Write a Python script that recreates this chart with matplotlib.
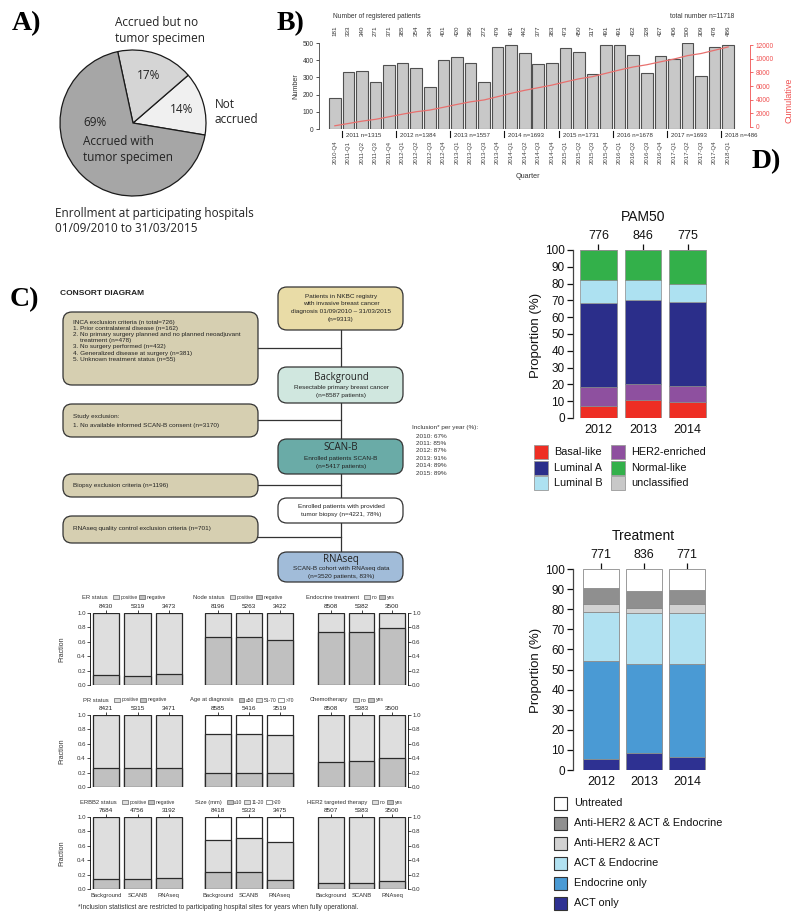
import matplotlib
matplotlib.use('Agg')
import matplotlib.pyplot as plt
import numpy as np
from matplotlib.patches import FancyBboxPatch, Rectangle
from matplotlib.offsetbox import HPacker, TextArea, DrawingArea, AnnotationBbox

plt.rcParams['font.family'] = ['Liberation Sans', 'DejaVu Sans']

# ---------------- DATA ----------------
# Panel A
pie_labels = ['Not accrued', 'Accrued but no tumor specimen', 'Accrued with tumor specimen']
pie_pct = [14, 17, 69]

# Panel B
quarters = ['2010-Q4', '2011-Q1', '2011-Q2', '2011-Q3', '2011-Q4', '2012-Q1', '2012-Q2',
            '2012-Q3', '2012-Q4', '2013-Q1', '2013-Q2', '2013-Q3', '2013-Q4', '2014-Q1',
            '2014-Q2', '2014-Q3', '2014-Q4', '2015-Q1', '2015-Q2', '2015-Q3', '2015-Q4',
            '2016-Q1', '2016-Q2', '2016-Q3', '2016-Q4', '2017-Q1', '2017-Q2', '2017-Q3',
            '2017-Q4', '2018-Q1']
registered = [181, 333, 340, 271, 371, 385, 354, 244, 401, 420, 386, 272, 479, 491, 442,
              377, 383, 473, 450, 317, 491, 491, 432, 328, 427, 406, 500, 309, 478, 486]
year_labels = ['2011', '2012', '2013', '2014', '2015', '2016', '2017', '2018']
year_totals = [1315, 1384, 1557, 1693, 1731, 1678, 1693, 486]
cum_ticks = [0, 2000, 4000, 6000, 8000, 10000, 12000]

# Panel C (small bar charts)
cohorts = ['Background', 'SCANB', 'RNAseq']
er_n = [8430, 5319, 3473];   er_neg = [0.14, 0.13, 0.15]
node_n = [8196, 5263, 3422]; node_neg = [0.67, 0.67, 0.63]
endo_n = [8508, 5382, 3500]; endo_yes = [0.73, 0.73, 0.79]
pr_n = [8421, 5315, 3471];   pr_neg = [0.27, 0.26, 0.27]
age_n = [8585, 5416, 3519];  age_le50 = [0.19, 0.19, 0.20]; age_le70 = [0.73, 0.735, 0.72]
chemo_n = [8508, 5383, 3500]; chemo_yes = [0.35, 0.36, 0.40]
erbb2_n = [7684, 4756, 3192]; erbb2_neg = [0.135, 0.135, 0.15]
size_n = [8418, 5323, 3475]; size_le10 = [0.23, 0.23, 0.13]; size_le20 = [0.68, 0.71, 0.65]
her2t_n = [8507, 5383, 3500]; her2t_yes = [0.09, 0.09, 0.11]
inclusion_years = ['2010', '2011', '2012', '2013', '2014', '2015']
inclusion_pct = [67, 85, 87, 91, 89, 89]

# Panel D
d_years = ['2012', '2013', '2014']
pam_n = [776, 846, 775]
basal = [7.2, 10.6, 9.8]
her2e = [11.0, 9.8, 9.2]
luma = [50.4, 50.0, 50.2]
lumb = [13.6, 11.6, 10.6]
normal = [17.8, 18.0, 20.2]
unclass = [0.0, 0.0, 0.0]
treat_n = [771, 836, 771]
act_only = [5.5, 8.5, 6.6]
endocrine_only = [48.8, 44.3, 46.2]
act_endocrine = [24.1, 25.1, 25.3]
her2_act = [4.0, 2.8, 4.3]
her2_act_endo = [8.0, 8.5, 7.3]
untreated = [9.6, 10.8, 10.3]

# ---------------- FIGURE ----------------
W, H = 800, 922
fig = plt.figure(figsize=(8, 9.22), dpi=100)


def add_ax(l, t, r, b):
    ax = fig.add_axes([l / W, 1 - b / H, (r - l) / W, (b - t) / H])
    ax.set_facecolor('none')
    return ax


ov = add_ax(0, 0, W, H)
ov.set_xlim(0, W)
ov.set_ylim(H, 0)
ov.axis('off')

SERIF = ['Liberation Serif', 'DejaVu Serif']
HUM = ['Open Sans', 'DejaVu Sans']
for lab, x, y in [('A)', 12, 24), ('B)', 277, 24), ('C)', 10, 300), ('D)', 752, 162)]:
    ov.text(x, y, lab, family=SERIF, weight='bold', fontsize=20, ha='left', va='center')

# ---------------- Panel A ----------------
axA = add_ax(60, 50, 206, 196)
wedges, _ = axA.pie(pie_pct, colors=['#f0f0f0', '#d5d5d5', '#a6a6a6'], startangle=-9.5,
                    counterclock=True, wedgeprops=dict(edgecolor='#1a1a1a', linewidth=0.9))
axA.set_xlim(-1, 1)
axA.set_ylim(-1, 1)
for i in (0, 1):
    w = wedges[i]
    th = np.deg2rad((w.theta1 + w.theta2) / 2)
    axA.text(0.69 * np.cos(th), 0.69 * np.sin(th), f'{pie_pct[i]}%', ha='center', va='center',
             family=HUM, fontsize=8.5, color='#222')
axA.text(-0.68, 0.0, f'{pie_pct[2]}%', ha='left', va='center', family=HUM, fontsize=8.5, color='#222')
axA.text(-0.68, -0.36, 'Accrued with\ntumor specimen', ha='left', va='center', family=HUM,
         fontsize=8.5, color='#222', linespacing=1.25)
axA.text(-0.25, 1.27, 'Accrued but no\ntumor specimen', ha='left', va='center', family=HUM,
         fontsize=8.5, color='#222', linespacing=1.25)
axA.text(1.12, 0.15, 'Not\naccrued', ha='left', va='center', family=HUM, fontsize=8.5,
         color='#222', linespacing=1.25)
axA.text(-1.07, -1.34, 'Enrollment at participating hospitals\n01/09/2010 to 31/03/2015',
         ha='left', va='center', family=HUM, fontsize=8.5, color='#222', linespacing=1.25)

# ---------------- Panel B ----------------
axB = add_ax(319, 43, 750, 129)
xq = np.arange(len(registered))
axB.bar(xq, registered, width=0.86, color='#c8c8c8', edgecolor='#505050', linewidth=0.8)
axB.set_xlim(-1.167, 30.61)
axB.set_ylim(0, 500)
for s in ('top', 'right', 'bottom'):
    axB.spines[s].set_visible(False)
axB.spines['left'].set_linewidth(0.6)
axB.spines['left'].set_color('#444')
axB.set_yticks([0, 100, 200, 300, 400, 500])
axB.tick_params(axis='y', labelsize=4.8, length=2.5, width=0.6, pad=1.5, colors='#333')
axB.set_xticks(xq)
axB.set_xticklabels(quarters, rotation=90, fontsize=4.3, color='#444')
axB.tick_params(axis='x', length=0, pad=8.5)
tr = axB.get_xaxis_transform()
for xi, v in zip(xq, registered):
    axB.text(xi, 1.14, str(v), rotation=90, ha='center', va='center', fontsize=4.5,
             color='#333', transform=tr)
for ylab, tot in zip(year_labels, year_totals):
    idx = quarters.index(ylab + '-Q1')
    xb = idx - 0.5
    axB.plot([xb, xb], [-0.02, -0.095], color='#111', lw=0.8, transform=tr, clip_on=False)
    axB.text(xb + 0.3, -0.07, f'{ylab} n={tot}', ha='left', va='center', fontsize=4.4,
             color='#333', transform=tr)
axB2 = axB.twinx()
axB2.set_facecolor('none')
RED = '#f05050'
axB2.plot(xq, np.cumsum(registered), color='#e8706e', lw=0.9)
axB2.set_ylim(-293, 12294)
for s in ('top', 'left', 'bottom'):
    axB2.spines[s].set_visible(False)
axB2.spines['right'].set_bounds(0, 12000)
axB2.spines['right'].set_color(RED)
axB2.spines['right'].set_linewidth(0.6)
axB2.set_yticks(cum_ticks)
axB2.tick_params(axis='y', labelsize=4.8, length=2.5, width=0.6, pad=1.5, colors=RED)
ov.text(333, 17, 'Number of registered patients', fontsize=4.8, color='#333', ha='left', va='center')
ov.text(670, 17, f'total number n={sum(registered)}', fontsize=4.8, color='#333', ha='left', va='center')
ov.text(296, 86, 'Number', rotation=90, fontsize=5.2, color='#333', ha='center', va='center')
ov.text(528, 176, 'Quarter', fontsize=5.2, color='#333', ha='center', va='center')
ov.text(789, 100, 'Cumulative', rotation=90, fontsize=6.5, color=RED, ha='center', va='center')

# ---------------- Panel C: consort ----------------
ov.text(60, 293, 'CONSORT DIAGRAM', fontsize=6, weight='bold', color='#222', ha='left', va='center')
ov.plot([341, 341], [330, 552], color='#333', lw=0.9, zorder=1)
for yl in (348, 420, 485, 537):
    ov.plot([258, 341], [yl, yl], color='#333', lw=0.9, zorder=1)


def cbox(l, t, r, b, fc, rad=9):
    ov.add_patch(FancyBboxPatch((l, t), r - l, b - t,
                                boxstyle=f'round,pad=0,rounding_size={rad}',
                                fc=fc, ec='#333', lw=0.9, zorder=2))


TAN = '#d6cfb1'
cbox(63, 312, 258, 385, TAN)
cbox(63, 404, 258, 437, TAN)
cbox(63, 474, 258, 497, TAN)
cbox(63, 516, 258, 543, TAN)
cbox(278, 287, 403, 330, '#e9dca7')
cbox(278, 367, 403, 403, '#d0e7df')
cbox(278, 439, 403, 474, '#6aaba7')
cbox(278, 498, 403, 523, '#ffffff')
cbox(278, 552, 403, 582, '#a1bcd9')

SM = 4.6
inca_lines = ['INCA exclusion criteria (n total=726)',
              '1. Prior contralateral disease (n=162)',
              '2. No primary surgery planned and no planned neoadjuvant',
              '    treatment (n=478)',
              '3. No surgery performed (n=432)',
              '4. Generalized disease at surgery (n=381)',
              '5. Unknown treatment status (n=55)']
for i, s in enumerate(inca_lines):
    ov.text(73, 322 + 6.2 * i, s, fontsize=SM, color='#222', ha='left', va='center', zorder=3)
ov.text(73, 416, 'Study exclusion:', fontsize=SM, color='#222', ha='left', va='center', zorder=3)
ov.text(73, 425, '1. No available informed SCAN-B consent (n=3170)', fontsize=SM, color='#222',
        ha='left', va='center', zorder=3)
ov.text(73, 485, 'Biopsy exclusion criteria (n=1196)', fontsize=SM, color='#222', ha='left',
        va='center', zorder=3)
ov.text(73, 528, 'RNAseq quality control exclusion criteria (n=701)', fontsize=SM, color='#222',
        ha='left', va='center', zorder=3)


def ctext(y, s, size=SM, fam=None):
    kw = dict(fontsize=size, color='#222', ha='center', va='center', zorder=3)
    if fam:
        kw['family'] = fam
    ov.text(341, y, s, **kw)


for i, s in enumerate(['Patients in NKBC registry', 'with invasive breast cancer',
                       'diagnosis 01/09/2010 \u2013 31/03/2015', '(n=9313)']):
    ctext(296 + 7.7 * i, s)
ctext(377, 'Background', 7, HUM)
ctext(387, 'Resectable primary breast cancer')
ctext(395, '(n=8587 patients)')
ctext(447, 'SCAN-B', 7, HUM)
ctext(458, 'Enrolled patients SCAN-B')
ctext(466, '(n=5417 patients)')
ctext(506, 'Enrolled patients with provided')
ctext(514, 'tumor biopsy (n=4221, 78%)')
ctext(559, 'RNAseq', 7, HUM)
ctext(568, 'SCAN-B cohort with RNAseq data')
ctext(576, '(n=3520 patients, 83%)')

ov.text(412, 427, 'Inclusion* per year (%):', fontsize=SM, color='#333', ha='left', va='center')
for i, (yy, pc) in enumerate(zip(inclusion_years, inclusion_pct)):
    ov.text(416, 436 + 7.4 * i, f'{yy}: {pc}%', fontsize=SM, color='#333', ha='left', va='center')

# ---------------- Panel C: small bar charts ----------------
LIGHT, DARK, WHITE = '#dedede', '#c0c0c0', '#ffffff'
col_x = [(90, 185), (202, 296), (315, 408)]
row_y = [(613, 685), (715, 787), (817, 889)]
charts = [
    [('ER status', ['positive', 'negative'], [LIGHT, DARK], er_n, [er_neg]),
     ('Node status', ['positive', 'negative'], [LIGHT, DARK], node_n, [node_neg]),
     ('Endocrine treatment', ['no', 'yes'], [LIGHT, DARK], endo_n, [endo_yes])],
    [('PR status', ['positive', 'negative'], [LIGHT, DARK], pr_n, [pr_neg]),
     ('Age at diagnosis', ['\u226450', '51-70', '>70'], [DARK, LIGHT, WHITE], age_n, [age_le70, age_le50]),
     ('Chemotherapy', ['no', 'yes'], [LIGHT, DARK], chemo_n, [chemo_yes])],
    [('ERBB2 status', ['positive', 'negative'], [LIGHT, DARK], erbb2_n, [erbb2_neg]),
     ('Size (mm)', ['\u226410', '11-20', '>20'], [DARK, LIGHT, WHITE], size_n, [size_le20, size_le10]),
     ('HER2 targeted therapy', ['no', 'yes'], [LIGHT, DARK], her2t_n, [her2t_yes])],
]
title_x = [[82, 193, 306], [83, 190, 310], [80, 195, 307]]
title_y = [597, 700, 802]


def legend_title(x, y, title, labels, colors):
    children = [TextArea(title, textprops=dict(size=4.2, color='#333')),
                TextArea(' ', textprops=dict(size=4.2))]
    for lab, c in zip(labels, colors):
        da = DrawingArea(4.2, 3.0, 0, 0)
        da.add_artist(Rectangle((0, 0), 4.2, 3.0, fc=c, ec='#444', lw=0.4))
        children += [da, TextArea(lab, textprops=dict(size=3.6, color='#333'))]
    pack = HPacker(children=children, align='center', pad=0, sep=1.2)
    ab = AnnotationBbox(pack, (x / W, 1 - y / H), xycoords='figure fraction',
                        box_alignment=(0, 0.5), frameon=False, pad=0)
    fig.add_artist(ab)


xs = np.arange(3)
for r in range(3):
    for c in range(3):
        title, labs, cols, nvals, bounds = charts[r][c]
        ax = add_ax(col_x[c][0], row_y[r][0], col_x[c][1], row_y[r][1])
        top_color = WHITE if len(bounds) == 2 else LIGHT
        ax.bar(xs, np.ones(3), width=0.84, color=top_color, edgecolor='#2a2a2a', lw=0.9)
        if len(bounds) == 2:
            ax.bar(xs, bounds[0], width=0.84, color=LIGHT, edgecolor='#2a2a2a', lw=0.9)
            ax.bar(xs, bounds[1], width=0.84, color=DARK, edgecolor='#2a2a2a', lw=0.9)
        else:
            ax.bar(xs, bounds[0], width=0.84, color=DARK, edgecolor='#2a2a2a', lw=0.9)
        ax.set_xlim(-0.52, 2.52)
        ax.set_ylim(0, 1)
        for s in ('top', 'bottom', 'left', 'right'):
            ax.spines[s].set_visible(False)
        ax.set_xticks(xs)
        ax.set_xticklabels([str(v) for v in nvals])
        ax.xaxis.tick_top()
        ax.tick_params(axis='x', labelsize=4.6, length=2, width=0.6, pad=0.8, colors='#222')
        yt = [0.0, 0.2, 0.4, 0.6, 0.8, 1.0]
        if c == 0:
            ax.spines['left'].set_visible(True)
            ax.spines['left'].set_linewidth(0.6)
            ax.set_yticks(yt)
            ax.set_yticklabels([f'{v:.1f}' for v in yt])
            ax.tick_params(axis='y', labelsize=4.4, length=2, width=0.6, pad=1, colors='#333')
            ax.text(-0.3, 0.5, 'Fraction', rotation=90, transform=ax.transAxes, fontsize=5,
                    ha='center', va='center', color='#333')
        elif c == 2:
            ax.spines['right'].set_visible(True)
            ax.spines['right'].set_linewidth(0.6)
            ax.yaxis.tick_right()
            ax.set_yticks(yt)
            ax.set_yticklabels([f'{v:.1f}' for v in yt])
            ax.tick_params(axis='y', labelsize=4.4, length=2, width=0.6, pad=1, colors='#333')
        else:
            ax.set_yticks([])
        if r == 2:
            trx = ax.get_xaxis_transform()
            for xi, lab in zip(xs, cohorts):
                ax.text(xi, -0.09, lab, transform=trx, fontsize=4.2, ha='center', va='center',
                        color='#333')
        legend_title(title_x[r][c], title_y[r], title, labs, cols)

ov.text(78, 907, '*Inclusion statisticst are restricted to participating hospital sites for years when fully operational.',
        fontsize=4.8, color='#333', ha='left', va='center')

# ---------------- Panel D ----------------
xd = np.arange(3)


def stacked(ax, series, colors, edge, lw):
    bottom = np.zeros(3)
    for vals, col in zip(series, colors):
        ax.bar(xd, vals, bottom=bottom, width=0.83, color=col, edgecolor=edge, lw=lw)
        bottom = bottom + np.array(vals)


def style_d(ax, nvals, xl):
    ax.set_xlim(*xl)
    ax.set_ylim(0, 100)
    for s in ('top', 'bottom', 'right'):
        ax.spines[s].set_visible(False)
    ax.spines['left'].set_linewidth(0.9)
    ax.spines['left'].set_color('#444')
    ax.set_yticks(np.arange(0, 101, 10))
    ax.tick_params(axis='y', labelsize=8.5, length=4, width=0.9, pad=2, colors='#111')
    ax.set_xticks(xd)
    ax.set_xticklabels(d_years, fontsize=9)
    ax.tick_params(axis='x', length=0, pad=4, colors='#111')
    sec = ax.secondary_xaxis('top')
    sec.set_xticks(xd)
    sec.set_xticklabels([str(v) for v in nvals], fontsize=9)
    sec.tick_params(length=4, width=0.9, pad=2, colors='#111')
    sec.spines['top'].set_visible(False)


pam_series = [basal, her2e, luma, lumb, normal, unclass]
pam_names = ['Basal-like', 'HER2-enriched', 'Luminal A', 'Luminal B', 'Normal-like', 'unclassified']
pam_colors = ['#ee2e24', '#8e509f', '#2b2e8a', '#ade1f1', '#33b04a', '#c8c8c8']
axP = add_ax(573, 250, 709, 418)
stacked(axP, pam_series, pam_colors, '#8a8a8a', 0.5)
style_d(axP, pam_n, (-0.572, 2.482))
ov.text(643, 217, 'PAM50', fontsize=10, ha='center', va='center', color='#111')
ov.text(536, 335, 'Proportion (%)', rotation=90, fontsize=9.5, ha='center', va='center', color='#111')

legend_pos = {'Basal-like': (534, 452), 'Luminal A': (534, 468), 'Luminal B': (534, 483),
              'HER2-enriched': (611, 452), 'Normal-like': (611, 468), 'unclassified': (611, 483)}
for name, col in zip(pam_names, pam_colors):
    lx, ly = legend_pos[name]
    ov.add_patch(Rectangle((lx, ly - 7), 14, 14, fc=col, ec='#999', lw=0.6))
    ov.text(lx + 20, ly, name, fontsize=7.8, ha='left', va='center', color='#111')

treat_series = [act_only, endocrine_only, act_endocrine, her2_act, her2_act_endo, untreated]
treat_names = ['ACT only', 'Endocrine only', 'ACT & Endocrine', 'Anti-HER2 & ACT',
               'Anti-HER2 & ACT & Endocrine', 'Untreated']
treat_colors = ['#2e3192', '#4a9ad4', '#b1e1f1', '#d2d2d2', '#8f8f8f', '#ffffff']
axT = add_ax(573, 569, 708, 770)
stacked(axT, treat_series, treat_colors, '#8a8a8a', 0.6)
style_d(axT, treat_n, (-0.647, 2.485))
ov.text(643, 536, 'Treatment', fontsize=10, ha='center', va='center', color='#111')
ov.text(536, 670, 'Proportion (%)', rotation=90, fontsize=9.5, ha='center', va='center', color='#111')
for i, (name, col) in enumerate(zip(treat_names[::-1], treat_colors[::-1])):
    ly = 803 + 20 * i
    ov.add_patch(Rectangle((554, ly - 6.5), 13, 13, fc=col, ec='#333', lw=0.8))
    ov.text(574, ly, name, fontsize=7.8, ha='left', va='center', color='#111')

fig.savefig('out.png', dpi=100)
